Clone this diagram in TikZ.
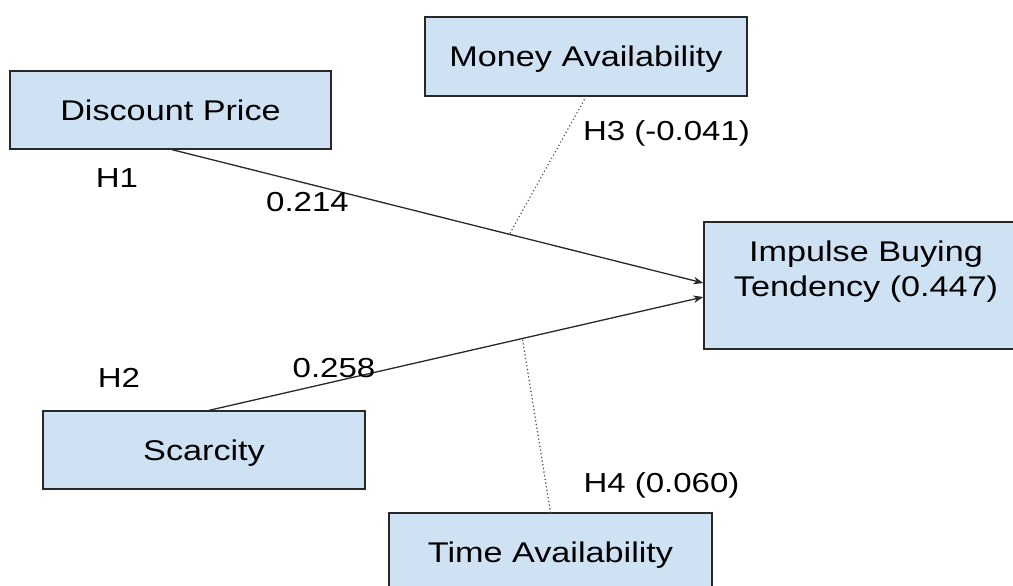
\documentclass[tikz,border=0pt]{standalone}
\usepackage{fontspec}
\setmainfont[FakeStretch=1.2]{Liberation Sans}
\usetikzlibrary{arrows.meta,calc}
\definecolor{boxfill}{RGB}{207,226,243}
\definecolor{edge}{RGB}{40,40,40}
\tikzset{
  box/.style={draw=edge, fill=boxfill, line width=1.3pt, minimum width=321pt,
    minimum height=78pt, inner sep=0pt, font=\fontsize{28.5}{34}\selectfont,
    text height=20.4pt, text depth=0pt},
  boxtext/.style={font=\fontsize{28.5}{35}\selectfont, inner sep=0pt, align=center},
  lbl/.style={font=\fontsize{27.5}{33}\selectfont, inner sep=0pt},
  effect/.style={draw=edge, line width=1.3pt, -{Stealth[length=10pt,width=7.5pt]}},
  moderation/.style={draw=edge!80, line width=1.7pt, dash pattern=on 0.01pt off 3.7pt, line cap=round},
}
\begin{document}
\begin{tikzpicture}[x=1pt,y=-1pt]
\useasboundingbox (0,0) rectangle (1013,586);
\clip (0,0) rectangle (1013,586);
% boxes
\node[box] (dp) at (170.5,110) {Discount Price};
\node[box, minimum width=322pt, minimum height=79pt] (ma) at (586,56.5) {Money Availability};
\node[box, minimum width=322pt] (sc) at (204,450) {Scarcity};
\node[box, minimum width=323pt] (ta) at (550.5,552) {Time Availability};
\node[box, minimum width=324pt, minimum height=127pt] (ibt) at (866,285.5) {};
\node[boxtext] (ibtlabel) at (866,272) {Impulse Buying\\Tendency (0.447)};
% connectors
\coordinate (ibtA) at ([yshift=2.5pt]ibt.west);
\coordinate (ibtB) at ([yshift=-11.5pt]ibt.west);
\coordinate (dpS) at ([xshift=1.5pt]dp.south);
\coordinate (scN) at ([xshift=5pt]sc.north);
\draw[effect] (dpS) -- (ibtA);
\draw[effect] (scN) -- (ibtB);
\coordinate (m1) at ($(dpS)!0.635!(ibtA)$);
\coordinate (m2) at ($(scN)!0.634!(ibtB)$);
\draw[moderation] (ma.south) -- (m1);
\draw[moderation] (ta.north) -- (m2);
% labels
\node[lbl] (h1) at (117,178) {H1};
\node[lbl] (c1) at (307.5,202) {0.214};
\node[lbl] (h2) at (119,377.5) {H2};
\node[lbl] (c2) at (334,368) {0.258};
\node[lbl] (h3) at (666.5,133) {H3 (-0.041)};
\node[lbl] (h4) at (661.5,485) {H4 (0.060)};
\end{tikzpicture}
\end{document}
